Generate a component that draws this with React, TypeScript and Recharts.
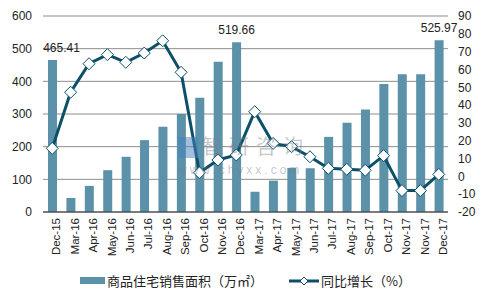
import React from 'react'
import {
  ComposedChart,
  Bar,
  Line,
  XAxis,
  YAxis,
  CartesianGrid,
  LabelList,
} from 'recharts'

const months = [
  'Dec-15', 'Mar-16', 'Apr-16', 'May-16', 'Jun-16', 'Jul-16', 'Aug-16', 'Sep-16',
  'Oct-16', 'Nov-16', 'Dec-16', 'Mar-17', 'Apr-17', 'May-17', 'Jun-17', 'Jul-17',
  'Aug-17', 'Sep-17', 'Oct-17', 'Nov-17', 'Nov-17', 'Dec-17',
]

// 商品住宅销售面积（万㎡）
const salesArea = [
  465.41, 43, 80, 128, 169, 220, 261, 300, 350, 460, 519.66, 62, 96, 135, 134, 230,
  273, 314, 392, 422, 422, 525.97,
]

// 同比增长（%）
const growth = [
  15.7, 47.2, 63.2, 68.3, 64, 69.2, 76.1, 58.4, 2, 9.2, 12, 36.3, 18.5, 16.7, 11, 4.5,
  4, 3.4, 11.6, -8, -8, 1.1,
]

const leftTicks = [0, 100, 200, 300, 400, 500, 600]
const rightTicks = [-20, -10, 0, 10, 20, 30, 40, 50, 60, 70, 80, 90]
const labelledMonths = [0, 10, 21]

const data = months.map((m, i) => ({
  month: m,
  area: salesArea[i],
  growth: growth[i],
}))

const BAR = '#5b91a9'
const LINE = '#0b4f68'
const FONT = '"Liberation Sans", Arial, sans-serif'

const Diamond = (props: any) => {
  const { cx, cy } = props
  if (cx == null || cy == null) return null
  const r = 6
  return (
    <polygon
      points={`${cx},${cy - r} ${cx + r},${cy} ${cx},${cy + r} ${cx - r},${cy}`}
      fill="#fff"
      stroke={LINE}
      strokeWidth={1}
    />
  )
}

const BarValue = (props: any) => {
  const { x, y, width, value, index } = props
  if (!labelledMonths.includes(index)) return null
  const shift = index === 0 ? 9 : 0
  return (
    <text
      x={x + width / 2 + shift}
      y={y - 8}
      textAnchor="middle"
      fontSize={12}
      fontFamily={FONT}
      fill="#222"
    >
      {value}
    </text>
  )
}

export default function App() {
  return (
    <div style={{ position: 'relative', margin: -8, width: 487, height: 305, background: '#fff' }}>
      <div
        style={{
          position: 'absolute',
          left: 4,
          top: 1,
          width: 479,
          height: 300,
          border: '1px solid #8a8a8a',
          boxSizing: 'border-box',
        }}
      />

      <div style={{ position: 'absolute', left: 0, top: 0 }}>
        <ComposedChart
          width={487}
          height={305}
          data={data}
          margin={{ top: 16, right: 0, bottom: 43, left: 0 }}
          barSize={9}
        >
          <CartesianGrid
            vertical={false}
            stroke="#8c8c8c"
            yAxisId="left"
          />
          <XAxis
            dataKey="month"
            height={50}
            interval={0}
            angle={-90}
            textAnchor="end"
            tickLine={false}
            tickMargin={0}
            axisLine={{ stroke: '#333' }}
            tick={{ fontSize: 11.5, fill: '#222', fontFamily: FONT }}
          />
          <YAxis
            yAxisId="left"
            width={43}
            domain={[0, 600]}
            ticks={leftTicks}
            interval={0}
            axisLine={false}
            tickLine={false}
            tickMargin={5}
            tick={{ fontSize: 12, fill: '#222', fontFamily: FONT }}
          />
          <YAxis
            yAxisId="right"
            orientation="right"
            width={39}
            domain={[-20, 90]}
            ticks={rightTicks}
            interval={0}
            axisLine={false}
            tickLine={false}
            tickMargin={4}
            tick={{ fontSize: 12, fill: '#222', fontFamily: FONT, textAnchor: 'start' }}
          />
          <Bar
            yAxisId="left"
            dataKey="area"
            fill={BAR}
            isAnimationActive={false}
          >
            <LabelList dataKey="area" content={BarValue} />
          </Bar>
          <Line
            yAxisId="right"
            dataKey="growth"
            stroke={LINE}
            strokeWidth={3}
            dot={<Diamond />}
            activeDot={false}
            isAnimationActive={false}
          />
        </ComposedChart>
      </div>

      {/* watermark */}
      <div
        style={{
          position: 'absolute',
          left: 178,
          top: 137,
          width: 20,
          height: 21,
          background: 'rgba(70,130,190,0.5)',
        }}
      />
      <div
        style={{
          position: 'absolute',
          left: 202,
          top: 136,
          height: 20,
          fontSize: 20,
          lineHeight: '20px',
          letterSpacing: 7,
          color: 'rgba(120,130,140,0.45)',
          fontFamily: '"Noto Sans CJK SC", sans-serif',
          whiteSpace: 'nowrap',
        }}
      >
        智研咨询
      </div>
      <div
        style={{
          position: 'absolute',
          left: 178,
          top: 164,
          fontSize: 12,
          lineHeight: '12px',
          letterSpacing: 3,
          color: 'rgba(120,130,140,0.45)',
          fontFamily: FONT,
          whiteSpace: 'nowrap',
        }}
      >
        www.chyxx.com
      </div>

      {/* legend */}
      <div
        style={{
          position: 'absolute',
          top: 271,
          left: 80,
          display: 'flex',
          alignItems: 'center',
          fontSize: 13,
          color: '#222',
          fontFamily: '"Noto Sans CJK SC", sans-serif',
          whiteSpace: 'nowrap',
        }}
      >
        <span style={{ display: 'inline-block', width: 25, height: 7, background: BAR, marginRight: 2 }} />
        <span>商品住宅销售面积（万㎡）</span>
        <svg width={30} height={14} style={{ marginLeft: 26, marginRight: 2 }}>
          <line x1={0} y1={7} x2={30} y2={7} stroke={LINE} strokeWidth={3} />
          <polygon points="15,3 19,7 15,11 11,7" fill="#fff" stroke={LINE} strokeWidth={1} />
        </svg>
        <span>同比增长（%）</span>
      </div>
    </div>
  )
}
